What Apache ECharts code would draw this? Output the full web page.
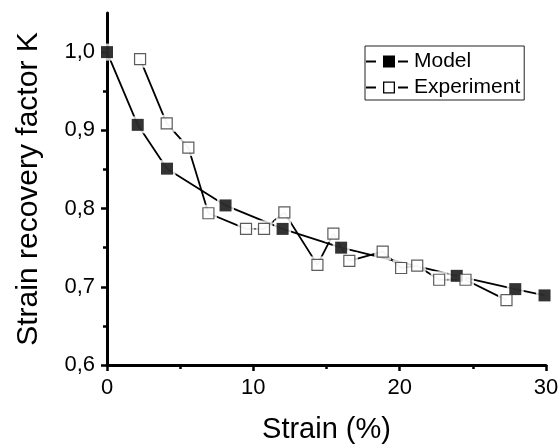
<!DOCTYPE html>
<html><head><meta charset="utf-8">
<script src="https://cdn.jsdelivr.net/npm/echarts@6/dist/echarts.min.js"></script>
<style>html,body{margin:0;padding:0;background:#fff}#c{width:560px;height:444px}</style>
</head><body><div id="c"></div>
<script>
const modelX = [0, 2.1, 4.1, 8.1, 12.0, 16.0, 23.9, 27.9, 29.9];
const modelY = [1.0, 0.907, 0.851, 0.804, 0.774, 0.750, 0.714, 0.697, 0.689];
const expX = [2.26, 4.08, 5.56, 6.93, 9.5, 10.73, 12.12, 14.38, 15.47, 16.56, 18.84, 20.1, 21.2, 22.7, 24.5, 27.3];
const expY = [0.991, 0.909, 0.878, 0.794, 0.774, 0.774, 0.795, 0.728, 0.768, 0.733, 0.745, 0.724, 0.727, 0.709, 0.709, 0.683];
const yMajor = [0.6, 0.7, 0.8, 0.9, 1.0];
const yMinor = [0.65, 0.75, 0.85, 0.95];
const xTitle = 'Strain (%)';
const yTitle = 'Strain recovery factor K';
const seriesNames = ['Model', 'Experiment'];

const F = 'Liberation Sans, Arial, sans-serif';
const pairs = (xs, ys) => xs.map((x, i) => [x, ys[i]]);
const model = pairs(modelX, modelY);
const exp = pairs(expX, expY);

const dashes = 'M0 5H10V7H0Z M32 5H42V7H32Z ';
const iconFilled = 'path://' + dashes + 'M17 0H29V12H17Z';
const iconHollow = 'path://' + dashes + 'M17 0H29V12H17Z M18.3 1.3V10.7H27.7V1.3Z';

const axisBlack = {color: '#000', width: 3};
const chart = echarts.init(document.getElementById('c'), null, {renderer: 'canvas'});
chart.setOption({
  animation: false,
  backgroundColor: '#fff',
  grid: {left: 107, right: 14, top: 13, bottom: 79, containLabel: false, outerBoundsMode: 'none'},
  legend: {
    orient: 'vertical', left: 365, top: 46,
    data: [
      {name: seriesNames[0], icon: iconFilled, itemStyle: {color: '#000', borderWidth: 0}},
      {name: seriesNames[1], icon: iconHollow, itemStyle: {color: '#000', borderWidth: 0}}
    ],
    borderColor: '#222', borderWidth: 1, borderRadius: 0,
    padding: [5, 4, 2, 1], itemGap: 5,
    itemWidth: 42, itemHeight: 12,
    textStyle: {fontFamily: F, fontSize: 21, color: '#000', padding: [0, 0, 0, 1]}
  },
  xAxis: {
    type: 'value', min: 0, max: 30, interval: 10,
    name: xTitle, nameLocation: 'middle', nameGap: 50,
    nameTextStyle: {fontFamily: F, fontSize: 29, color: '#000'},
    axisLine: {lineStyle: axisBlack},
    axisTick: {inside: false, length: 6, lineStyle: {color: '#000', width: 2.5}},
    minorTick: {show: true, splitNumber: 2, length: 4, lineStyle: {color: '#000', width: 2.5}},
    axisLabel: {fontFamily: F, fontSize: 22, color: '#000', margin: 12},
    splitLine: {show: false}
  },
  yAxis: [{
    type: 'value', min: 0.6, max: 1.05,
    name: yTitle, nameLocation: 'middle', nameGap: 63,
    nameTextStyle: {fontFamily: F, fontSize: 30, color: '#000'},
    axisLine: {lineStyle: axisBlack},
    axisTick: {customValues: yMajor, length: 6, lineStyle: {color: '#000', width: 2.5}},
    axisLabel: {customValues: yMajor, fontFamily: F, fontSize: 22, color: '#000', margin: 12,
      formatter: v => v.toFixed(1).replace('.', ',')},
    splitLine: {show: false}
  }, {
    type: 'value', min: 0.6, max: 1.05, position: 'left',
    axisLine: {show: false},
    axisTick: {show: true, customValues: yMinor, length: 4, lineStyle: {color: '#000', width: 2.5}},
    axisLabel: {show: false},
    splitLine: {show: false}
  }],
  series: [
    {name: seriesNames[0], type: 'line', data: model, showSymbol: false, symbol: 'rect', symbolSize: 12,
      itemStyle: {color: '#000'}, lineStyle: {color: '#000', width: 1.8}, z: 2},
    {name: seriesNames[1], type: 'line', data: exp, showSymbol: false, symbol: 'rect', symbolSize: 12,
      itemStyle: {color: '#fff', borderColor: '#000', borderWidth: 1.2}, lineStyle: {color: '#000', width: 1.8}, z: 2},
    {type: 'scatter', data: model, symbol: 'rect', symbolSize: 17, itemStyle: {color: '#fff'}, z: 3, silent: true},
    {type: 'scatter', data: exp, symbol: 'rect', symbolSize: 17, itemStyle: {color: '#fff'}, z: 3, silent: true},
    {type: 'scatter', data: model, symbol: 'rect', symbolSize: 12, itemStyle: {color: '#000'}, z: 4, silent: true},
    {type: 'scatter', data: exp, symbol: 'rect', symbolSize: 11, itemStyle: {color: '#fff', borderColor: '#333', borderWidth: 1.2}, z: 4, silent: true}
  ]
});
</script></body></html>
